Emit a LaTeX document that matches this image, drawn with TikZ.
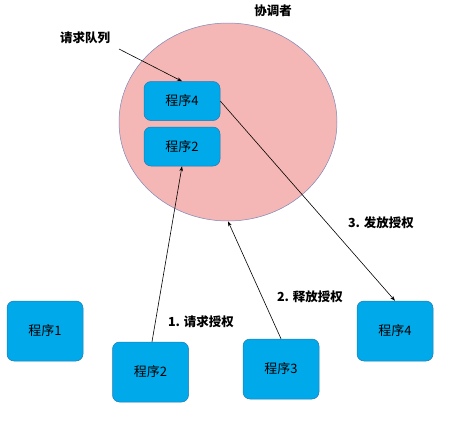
\documentclass[tikz,border=0pt]{standalone}
\usepackage{fontspec}
\newfontfamily\cjk{Noto Sans CJK SC}
\usetikzlibrary{shapes.geometric,arrows.meta}
\definecolor{boxfill}{HTML}{00AAEA}
\definecolor{boxline}{HTML}{1F78B4}
\definecolor{pinkfill}{HTML}{F5B7B5}
\definecolor{ellline}{HTML}{7A86B8}
\begin{document}
\begin{tikzpicture}[x=1pt,y=-1pt,
  prog/.style={draw=boxline,fill=boxfill,rounded corners=7pt,line width=0.5pt,
    minimum width=76pt,minimum height=60pt,inner sep=0pt,font=\cjk\fontsize{13}{15}\selectfont},
  qprog/.style={prog,minimum height=39pt},
  lbl/.style={font=\cjk\bfseries\fontsize{12.5}{14}\selectfont,inner sep=0pt},
  arr/.style={-{Stealth[length=5pt,width=3.5pt]},line width=0.6pt}]
\useasboundingbox (0,0) rectangle (453,424);
\node[ellipse,draw=ellline,fill=pinkfill,line width=0.5pt,minimum width=218pt,minimum height=198pt,inner sep=0pt] (coord) at (228,122) {};
\node[lbl] (title) at (273,11) {协调者};
\node[lbl] (queue) at (85,38) {请求队列};
\node[qprog] (q4) at (182,101) {程序4};
\node[qprog] (q2) at (182,146.5) {程序2};
\node[prog] (p1) at (45,331) {程序1};
\node[prog] (p2) at (150.5,372) {程序2};
\node[prog] (p3) at (281,369) {程序3};
\node[prog] (p4) at (395,331) {程序4};
\coordinate (qs) at (119,49);
\draw[arr] (qs) -- (q4.north);
\draw[arr] (p2.north) ++(1.5,0) coordinate (p2t) -- (q2.south);
\draw[arr] (p3.north) -- (coord.south);
\draw[arr] (q4.east) -- (p4.north);
\node[lbl] (l1) at (201,322) {1. 请求授权};
\node[lbl] (l2) at (310,297) {2. 释放授权};
\node[lbl] (l3) at (381,223) {3. 发放授权};
\end{tikzpicture}
\end{document}
